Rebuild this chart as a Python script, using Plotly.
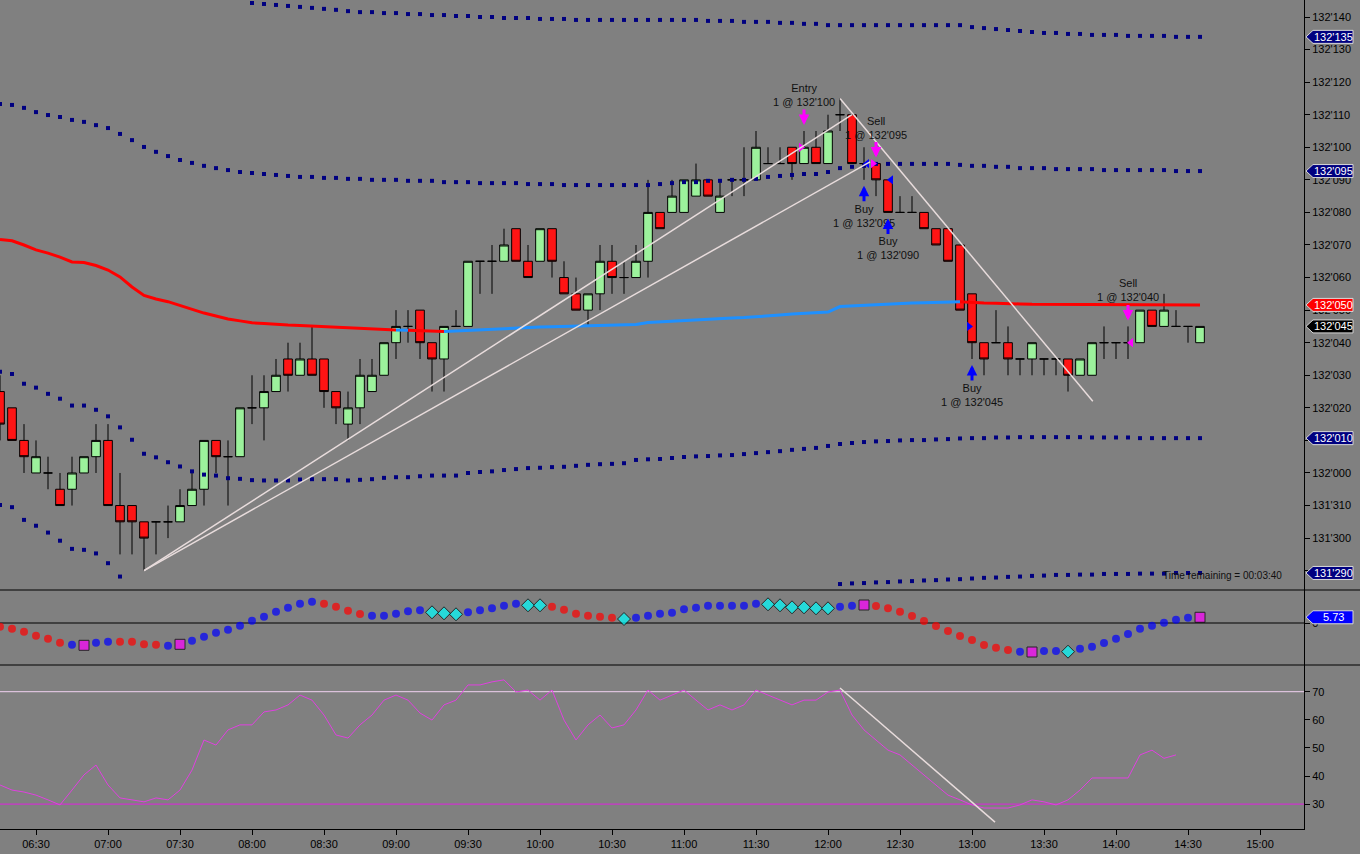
import plotly.graph_objects as go
from datetime import datetime, timedelta

# ---------------- data ----------------
# 5-minute bars, 06:15 .. 14:35
bar_start = datetime(2024, 3, 14, 6, 15)
n_bars = 101
bar_times = [bar_start + timedelta(minutes=5 * i) for i in range(n_bars)]

# prices in tenths of a 32nd above 131'000  (e.g. 365 -> 132'045)
opens = [
    345, 340, 330, 320, 320, 315, 315, 320, 325, 330,
    310, 310, 305, 305, 305, 305, 310, 315, 330, 325,
    325, 340, 340, 345, 355, 350, 355, 355, 345, 335,
    340, 345, 350, 360, 365, 370, 360, 355, 365, 365,
    385, 385, 385, 395, 385, 385, 395, 380, 375, 370,
    375, 385, 380, 380, 385, 400, 400, 400, 405, 410,
    400, 410, 410, 410, 415, 415, 420, 415, 420, 415,
    430, 430, 415, 415, 410, 400, 400, 400, 395, 395,
    390, 375, 360, 360, 360, 355, 355, 355, 355, 355,
    350, 350, 360, 360, 360, 360, 370, 365, 365, 365,
    360]
highs = [
    350, 340, 335, 330, 325, 320, 325, 325, 335, 335,
    320, 310, 305, 305, 310, 315, 320, 330, 330, 330,
    340, 350, 350, 355, 360, 360, 365, 355, 345, 345,
    355, 355, 360, 370, 370, 370, 360, 365, 370, 385,
    385, 390, 395, 395, 390, 395, 395, 385, 380, 375,
    390, 390, 385, 390, 410, 400, 410, 410, 415, 410,
    410, 410, 420, 425, 420, 420, 420, 425, 425, 430,
    435, 430, 420, 415, 410, 405, 405, 400, 395, 395,
    390, 375, 360, 370, 365, 355, 360, 355, 355, 355,
    355, 360, 365, 360, 365, 370, 370, 375, 370, 365,
    365]
lows = [
    330, 330, 320, 320, 315, 310, 310, 320, 320, 310,
    295, 295, 290, 295, 300, 305, 310, 310, 320, 310,
    325, 335, 330, 345, 345, 350, 350, 340, 335, 330,
    335, 345, 350, 355, 360, 355, 345, 345, 365, 365,
    375, 375, 385, 385, 380, 385, 380, 375, 370, 365,
    370, 375, 375, 380, 380, 395, 400, 400, 405, 405,
    400, 405, 405, 410, 415, 415, 410, 415, 415, 415,
    425, 415, 410, 405, 400, 400, 400, 395, 390, 385,
    370, 355, 350, 360, 350, 350, 350, 350, 350, 345,
    350, 350, 355, 355, 355, 360, 365, 365, 365, 360,
    360]
closes = [
    335, 330, 325, 325, 320, 310, 320, 325, 330, 310,
    305, 305, 300, 305, 305, 310, 315, 330, 325, 325,
    340, 340, 345, 350, 350, 355, 350, 345, 340, 340,
    350, 350, 360, 365, 365, 360, 355, 365, 365, 385,
    385, 385, 390, 385, 380, 395, 385, 375, 370, 375,
    385, 380, 380, 385, 400, 395, 405, 410, 410, 405,
    405, 410, 410, 420, 415, 415, 415, 420, 415, 425,
    430, 415, 415, 410, 400, 400, 400, 395, 390, 385,
    370, 360, 355, 360, 355, 355, 360, 355, 355, 350,
    355, 360, 360, 360, 360, 370, 365, 370, 365, 365,
    365]

# moving average (red = falling, blue = rising)
ma_line = [
    391.7, 391.3, 390.0, 388.5, 387.5, 386.3, 384.8, 384.6, 383.7, 382.3,
    380.2, 377.1, 374.5, 373.4, 372.6, 371.4, 370.2, 369.1, 368.2, 367.3,
    366.7, 366.1, 365.9, 365.6, 365.4, 365.3, 365.1, 365.0, 364.7, 364.5,
    364.4, 364.1, 363.9, 363.9, 363.8, 363.7, 363.6, 363.4, 363.6, 363.7,
    363.9, 364.0, 364.2, 364.4, 364.7, 364.8, 364.9, 365.0, 365.0, 365.1,
    365.3, 365.3, 365.4, 365.6, 366.2, 366.4, 366.7, 367.0, 367.1, 367.3,
    367.4, 367.6, 367.7, 367.9, 368.2, 368.5, 368.8, 369.0, 369.1, 369.4,
    371.1, 371.3, 371.6, 371.8, 371.9, 372.0, 372.2, 372.3, 372.4, 372.5,
    372.6, 372.3, 372.2, 372.1, 371.9, 371.9, 371.8, 371.8, 371.7, 371.7,
    371.7, 371.6, 371.6, 371.6, 371.6, 371.6, 371.6, 371.6, 371.6, 371.6,
    371.6]
ma_trend = ["r"] * 34 + ["b"] + ["r"] * 3 + ["b"] * 43 + ["r"] * 20

# envelope bands (dotted)
band_upper2 = [None] * 21 + [
    464.3, 464.0, 463.7, 463.4, 463.1, 462.8, 462.5, 462.2, 461.8, 461.5,
    461.5, 461.2, 461.2, 460.9, 460.9, 460.6, 460.6, 460.3, 460.3, 460.0,
    460.0, 459.7, 459.7, 459.7, 459.4, 459.4, 459.4, 459.1, 459.1, 459.1,
    459.1, 459.1, 459.1, 459.1, 459.1, 459.1, 459.1, 459.1, 458.8, 458.8,
    458.8, 458.5, 458.5, 458.5, 458.2, 458.2, 457.9, 457.9, 457.5, 457.5,
    457.5, 457.5, 457.5, 457.5, 457.5, 457.5, 457.5, 457.5, 457.5, 457.5,
    456.9, 456.6, 456.3, 456.0, 455.7, 455.4, 455.1, 455.1, 454.8, 454.8,
    454.5, 454.5, 454.5, 454.2, 454.2, 454.2, 454.2, 453.9, 453.9, 453.9]
band_upper1 = [
    433.3, 433.0, 432.1, 430.8, 429.9, 429.3, 428.4, 427.8, 426.8, 425.9,
    424.1, 422.2, 420.1, 418.6, 417.3, 416.1, 415.2, 414.3, 413.6, 413.0,
    412.4, 412.1, 411.8, 411.5, 411.2, 410.9, 410.9, 410.6, 410.6, 410.3,
    410.3, 410.0, 410.0, 410.0, 409.7, 409.7, 409.7, 409.3, 409.3, 409.3,
    409.0, 409.0, 409.0, 409.0, 408.7, 408.7, 408.7, 408.4, 408.4, 408.4,
    408.4, 408.4, 408.4, 408.4, 408.4, 408.7, 409.0, 409.3, 409.3, 409.7,
    409.7, 410.0, 410.0, 410.3, 410.9, 411.2, 411.5, 411.8, 411.8, 412.4,
    413.6, 414.0, 414.3, 414.9, 414.9, 414.9, 414.9, 414.9, 414.9, 414.9,
    414.6, 414.3, 414.3, 414.0, 414.0, 413.6, 413.6, 413.6, 413.3, 413.3,
    413.3, 413.3, 413.0, 413.0, 413.0, 413.0, 413.0, 413.0, 412.7, 412.7,
    412.7]
band_lower1 = [
    351.1, 350.4, 347.4, 346.2, 344.3, 342.8, 340.7, 340.7, 339.4, 337.4,
    334.0, 330.2, 325.9, 324.8, 323.3, 322.0, 320.5, 319.5, 319.2, 318.4,
    318.2, 317.8, 317.7, 317.7, 317.7, 318.0, 318.1, 318.1, 318.1, 317.7,
    317.9, 318.1, 318.5, 318.7, 318.7, 319.0, 319.2, 319.2, 319.2, 320.0,
    320.3, 320.5, 320.9, 321.2, 321.5, 321.6, 321.8, 321.9, 322.2, 322.5,
    322.7, 322.8, 323.0, 324.0, 324.2, 324.3, 324.6, 324.9, 325.1, 325.2,
    325.4, 325.5, 325.8, 326.1, 326.4, 326.7, 327.1, 327.4, 327.7, 328.3,
    328.9, 329.2, 329.5, 329.7, 329.8, 330.0, 330.1, 330.1, 330.3, 330.4,
    330.6, 330.7, 330.7, 330.9, 330.9, 331.0, 331.0, 331.0, 331.0, 331.0,
    331.0, 330.9, 330.9, 330.9, 330.9, 330.7, 330.7, 330.7, 330.7, 330.7,
    330.7]
band_lower2 = [
    310.2, 309.5, 305.6, 303.8, 301.7, 299.2, 296.7, 296.4, 295.3, 292.3,
    288.2] + [None] * 59 + [
    285.9, 286.1, 286.2, 286.4, 286.5, 286.7, 286.8, 287.0, 287.1, 287.3,
    287.4, 287.6, 287.8, 287.9, 288.1, 288.2, 288.4, 288.5, 288.7, 288.7,
    288.8, 288.8, 289.0, 289.0, 289.0, 289.1, 289.1, 289.1, 289.3, 289.3,
    289.3]

# oscillator (middle panel)
osc = [
    -3.7, -5.7, -8.7, -12.7, -15.7, -19.7, -21.7, -22.3, -19.7, -18.7,
    -18.7, -18.7, -21.3, -21.7, -22.7, -21.3, -17.7, -13.7, -9.7, -6.7,
    -2.7, 2.3, 6.3, 11.3, 15.3, 19.3, 21.3, 19.3, 16.3, 12.3,
    9.0, 7.3, 7.3, 9.3, 11.7, 12.7, 10.7, 9.7, 8.7, 10.7,
    12.7, 14.7, 17.3, 19.3, 17.7, 17.7, 16.3, 13.3, 9.3, 7.3,
    6.3, 5.3, 4.0, 5.3, 7.3, 9.3, 10.3,
    13.7, 15.3, 17.3, 17.3, 17.3, 17.3, 19.3, 18.7, 17.7, 15.7,
    15.7, 14.7, 14.7, 16.3, 17.3, 18.0, 17.0, 14.7, 11.3, 7.0,
    2.0, -3.0, -8.0, -13.0, -17.0, -22.0, -24.7, -27.0, -28.7, -29.0,
    -28.0, -28.0, -28.7, -25.7, -23.7, -20.0, -15.7, -11.0, -5.7, -2.7,
    0.3, 3.3, 5.3, 5.73]
osc_state = list("rrrrrrbmbbrrrrbmbbbbbbbbbbbrrrrbbbbbcccbbbbbccrrrrrrcbbbb"
                 "bbbbbbbccccccbbmrrrrrrrrrrrrbmbbcbbbbbbbbbbm")

# RSI-type line (bottom panel)
rsi = [
    36.8, 35.0, 34.3, 33.2, 31.5, 29.7, 35.0, 40.4, 43.9, 36.8,
    32.2, 31.5, 30.8, 32.2, 31.5, 35.0, 42.1, 52.8, 51.0, 56.4,
    58.2, 58.2, 62.8, 63.5, 65.3, 68.8, 67.0, 61.7, 54.6, 53.5,
    58.2, 61.7, 67.0, 68.8, 67.0, 62.4, 59.9, 65.3, 67.0, 72.4,
    72.4, 73.5, 74.2, 69.9, 70.6, 67.0, 70.6, 59.9, 52.8, 58.2,
    61.7, 57.1, 58.2, 63.5, 70.6, 67.0, 68.8, 70.6, 67.0, 63.5,
    65.3, 63.5, 65.3, 70.6, 68.8, 67.0, 65.3, 67.0, 67.0, 69.9,
    70.6, 61.7, 56.4, 52.8, 49.2, 47.5, 43.9, 40.4, 36.8, 33.2,
    31.5, 29.7, 28.6, 28.6, 28.6, 29.7, 31.5, 30.8, 29.7, 31.5,
    35.0, 39.3, 39.3, 39.3, 39.3, 47.5, 49.2, 46.3, 47.5, None,
    None]
rsi_levels = [70, 30]

# executions: (bar time, label, fill price, side, fill marker placement)
trades = [
    ("11:50", "Entry", 420, "sell", "left"),
    ("12:20", "Sell", 415, "sell", "left"),
    ("12:15", "Buy", 415, "buy", "right"),
    ("12:25", "Buy", 410, "buy", "right"),
    ("13:00", "Buy", 365, "buy", "left"),
    ("14:05", "Sell", 360, "sell", "right"),
]

# trend lines: (time, value) pairs
price_trendlines = [
    (("07:15", 290), ("12:10", 430)),
    (("07:15", 290), ("12:17:30", 415.5)),
    (("12:05", 435), ("13:50:20", 342)),
]
rsi_trendlines = [(("12:05", 71.3), ("13:09:35", 23.6))]

# ---------------- geometry ----------------
PLOT_W, PLOT_H = 1304, 829
D_MAIN = [(829 - 590) / 829, 1.0]
D_OSC = [(829 - 665) / 829, (829 - 590) / 829]
D_RSI = [0.0, (829 - 665) / 829]
R_MAIN = [284.07, 465.22]
R_OSC = [-42, 33]
R_RSI = [21.14, 79.5]
DAY = "2024-03-14 "


def t(s):
    fmt = "%Y-%m-%d %H:%M:%S" if s.count(":") == 2 else "%Y-%m-%d %H:%M"
    return datetime.strptime(DAY + s, fmt)


def fmt_price(v):
    v = int(round(v))
    return f"{131 + v // 320}'{v % 320:03d}"


def paper_y(v, dom, rng):
    return dom[0] + (v - rng[0]) / (rng[1] - rng[0]) * (dom[1] - dom[0])


fig = go.Figure()

# bands
for band in (band_upper2, band_upper1, band_lower1, band_lower2):
    fig.add_trace(go.Scatter(x=bar_times, y=band, mode="markers",
                             marker=dict(symbol="square", size=4, color="#000080", line=dict(width=0)),
                             xaxis="x", yaxis="y", hoverinfo="skip"))

# moving average coloured by trend
runs = []
for i in range(1, n_bars):
    c = ma_trend[i]
    if runs and runs[-1][0] == c:
        runs[-1][1].append(i)
    else:
        runs.append([c, [i - 1, i]])
for code, col in (("r", "#ff0000"), ("b", "#1e90ff")):
    xs, ys = [], []
    for c, idx in runs:
        if c != code:
            continue
        xs += [bar_times[j] for j in idx] + [None]
        ys += [ma_line[j] for j in idx] + [None]
    fig.add_trace(go.Scatter(x=xs, y=ys, mode="lines", line=dict(color=col, width=3),
                             xaxis="x", yaxis="y", hoverinfo="skip", connectgaps=False))

# candles
fig.add_trace(go.Candlestick(
    x=bar_times, open=opens, high=highs, low=lows, close=closes,
    increasing=dict(fillcolor="#9cf29c", line=dict(color="black", width=1)),
    decreasing=dict(fillcolor="#ff1414", line=dict(color="black", width=1)),
    whiskerwidth=0, xaxis="x", yaxis="y", hoverinfo="skip"))

# execution fill markers
for tm, label, price, side, place in trades:
    col = "#ff00ff" if side == "sell" else "#0000ff"
    bt = t(tm)
    if place == "left":
        x = bt - timedelta(seconds=75)
        sym = "triangle-right"
    else:
        x = bt + timedelta(seconds=75)
        sym = "triangle-left"
    fig.add_trace(go.Scatter(x=[x], y=[price], mode="markers",
                             marker=dict(symbol=sym, size=8, color=col, line=dict(width=0)),
                             xaxis="x", yaxis="y", hoverinfo="skip"))

# oscillator
style = {"r": ("#ff0000", "circle", 8, 0), "b": ("#0000ff", "circle", 8, 0),
         "c": ("#00ffff", "diamond", 10, 1), "m": ("#ff00ff", "square", 10, 1)}
fig.add_trace(go.Scatter(
    x=bar_times, y=osc, mode="markers", xaxis="x", yaxis="y2", hoverinfo="skip",
    marker=dict(color=[style[s][0] for s in osc_state],
                symbol=[style[s][1] for s in osc_state],
                size=[style[s][2] for s in osc_state],
                line=dict(color="black", width=[style[s][3] for s in osc_state]))))

# RSI
fig.add_trace(go.Scatter(x=bar_times, y=rsi, mode="lines", line=dict(color="#e040e0", width=1),
                         xaxis="x", yaxis="y3", hoverinfo="skip"))

# ---------------- shapes ----------------
shapes = []
for (a, b) in price_trendlines:
    shapes.append(dict(type="line", xref="x", yref="y", x0=t(a[0]), y0=a[1], x1=t(b[0]), y1=b[1],
                       line=dict(color="#e8dcdc", width=1.5)))
for (a, b) in rsi_trendlines:
    shapes.append(dict(type="line", xref="x", yref="y3", x0=t(a[0]), y0=a[1], x1=t(b[0]), y1=b[1],
                       line=dict(color="#e8dcdc", width=1.5)))
shapes.append(dict(type="line", xref="paper", yref="y3", x0=0, x1=1, y0=rsi_levels[0], y1=rsi_levels[0],
                   line=dict(color="#f0d0f0", width=1), layer="below"))
shapes.append(dict(type="line", xref="paper", yref="y3", x0=0, x1=1, y0=rsi_levels[1], y1=rsi_levels[1],
                   line=dict(color="#e020e0", width=1), layer="below"))
shapes.append(dict(type="line", xref="paper", yref="y2", x0=0, x1=1, y0=0, y1=0,
                   line=dict(color="black", width=1), layer="below"))
for d in (D_MAIN[0], D_OSC[0]):
    shapes.append(dict(type="line", xref="paper", yref="paper", x0=0, x1=1360 / PLOT_W, y0=d, y1=d,
                       line=dict(color="black", width=1)))

annotations = []


def add_tag(v, dom, rng, text, fill):
    yp = paper_y(v, dom, rng)
    h = 6.5 / PLOT_H
    xt, xb, xe = 1306 / PLOT_W, 1313 / PLOT_W, 1353 / PLOT_W
    shapes.append(dict(type="path", xref="paper", yref="paper",
                       path=f"M {xt},{yp} L {xb},{yp + h} L {xe},{yp + h} L {xe},{yp - h} L {xb},{yp - h} Z",
                       fillcolor=fill, line=dict(color="#d8d8d8", width=1), layer="above"))
    annotations.append(dict(xref="paper", yref="paper", x=(1313 + 1353) / 2 / PLOT_W, y=yp, text=text,
                            showarrow=False, xanchor="center", yanchor="middle",
                            font=dict(color="white", size=11)))


def snap(v):
    return round(v / 5) * 5


add_tag(band_upper2[-1], D_MAIN, R_MAIN, fmt_price(snap(band_upper2[-1])), "#000080")
add_tag(band_upper1[-1], D_MAIN, R_MAIN, fmt_price(snap(band_upper1[-1])), "#000080")
add_tag(ma_line[-1], D_MAIN, R_MAIN, fmt_price(snap(ma_line[-1])), "#ff0000")
add_tag(closes[-1], D_MAIN, R_MAIN, fmt_price(closes[-1]), "#000000")
add_tag(band_lower1[-1], D_MAIN, R_MAIN, fmt_price(snap(band_lower1[-1])), "#000080")
add_tag(band_lower2[-1], D_MAIN, R_MAIN, fmt_price(snap(band_lower2[-1])), "#000080")
add_tag(osc[-1], D_OSC, R_OSC, f"{osc[-1]:.2f}", "#0000ff")

# execution arrows and labels
bar_index = {bt.strftime("%H:%M"): i for i, bt in enumerate(bar_times)}
for tm, label, price, side, place in trades:
    i = bar_index[tm]
    bt = bar_times[i]
    if side == "sell":
        anchor_v, ay, ysh, col = highs[i], -23, 36, "#ff00ff"
    else:
        anchor_v, ay, ysh, col = lows[i], 23, -36, "#0000ff"
    annotations.append(dict(x=bt, y=anchor_v, xref="x", yref="y", ax=0, ay=ay, text="",
                            showarrow=True, arrowhead=2, arrowsize=0.7, arrowwidth=3,
                            arrowcolor=col, standoff=6))
    annotations.append(dict(x=bt, y=anchor_v, xref="x", yref="y", yshift=ysh, showarrow=False,
                            text=f"{label}<br>1 @ {fmt_price(price)}", yanchor="middle",
                            font=dict(size=11, color="#101010")))

annotations.append(dict(xref="paper", yref="paper", x=1222 / PLOT_W, y=(829 - 575) / PLOT_H,
                        text="Time remaining = 00:03:40", showarrow=False,
                        xanchor="center", yanchor="middle", font=dict(size=10, color="#101010")))

axis_common = dict(side="right", anchor="x", showgrid=False, zeroline=False, showline=True,
                   linecolor="black", linewidth=1, ticks="outside", ticklen=5, tickcolor="black",
                   tickfont=dict(size=11, color="black"), fixedrange=True)

main_ticks = list(range(290, 461, 10))

fig.update_layout(
    width=1360, height=854, margin=dict(l=0, r=56, t=0, b=25),
    paper_bgcolor="#808080", plot_bgcolor="#808080", showlegend=False,
    font=dict(family="Liberation Sans, Arial, sans-serif", size=11, color="black"),
    boxgap=0.15, boxgroupgap=0.15,
    xaxis=dict(type="date", range=[t("06:15"), t("15:18:20")], anchor="y3", domain=[0, 1],
               showgrid=False, zeroline=False, showline=True, linecolor="black", linewidth=1,
               ticks="outside", ticklen=5, tickcolor="black",
               tick0=t("06:30"), dtick=30 * 60 * 1000, tickformat="%H:%M",
               tickfont=dict(size=11, color="black"), rangeslider=dict(visible=False)),
    yaxis=dict(domain=D_MAIN, range=R_MAIN, tickvals=main_ticks,
               ticktext=[fmt_price(v) for v in main_ticks], **axis_common),
    yaxis2=dict(domain=D_OSC, range=R_OSC, tickvals=[0], ticktext=["0"], **axis_common),
    yaxis3=dict(domain=D_RSI, range=R_RSI, tickvals=[30, 40, 50, 60, 70], **axis_common),
    shapes=shapes, annotations=annotations,
)

fig.write_html("out.html", config={"displayModeBar": False},
               post_script="document.body.style.margin='0px';document.body.style.overflow='hidden';")
